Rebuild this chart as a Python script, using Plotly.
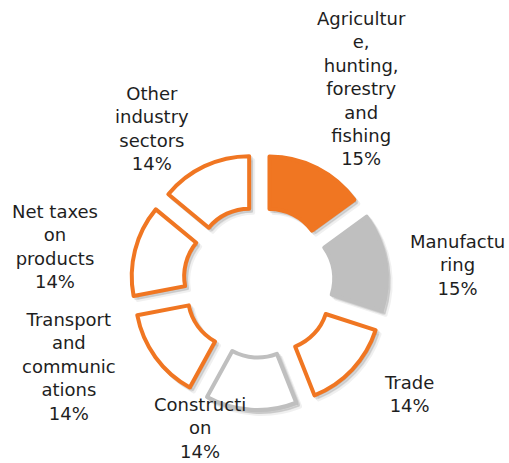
import plotly.graph_objects as go

# ---- data ----
labels = [
    "Agricultur<br>e,<br>hunting,<br>forestry<br>and<br>fishing",
    "Manufactu<br>ring",
    "Trade",
    "Constructi<br>on",
    "Transport<br>and<br>communic<br>ations",
    "Net taxes<br>on<br>products",
    "Other<br>industry<br>sectors",
]
values = [15, 15, 14, 14, 14, 14, 14]

# label block centres, pixels from top-left (layout only)
label_x = [361, 457, 409, 200, 69, 55, 152]
label_y = [88, 265, 394, 428, 366, 246, 128]

# ---- styling ----
W, H = 509, 463
ORANGE = "#F07622"
GREY = "#BFBFBF"
fill_colors = [ORANGE, GREY, "white", "white", "white", "white", "white"]
line_colors = [ORANGE, GREY, ORANGE, GREY, ORANGE, ORANGE, ORANGE]

# pie box in pixels
CX, CY, HALF = 259, 282, 128


def dom(cx, cy):
    return dict(x=[(cx - HALF) / W, (cx + HALF) / W],
                y=[1 - (cy + HALF) / H, 1 - (cy - HALF) / H])


pie_kw = dict(values=values, hole=0.5, pull=0.22, sort=False,
              direction="clockwise", rotation=0, textinfo="none",
              hoverinfo="skip", showlegend=False)

fig = go.Figure()

# soft drop shadow
for off, a in [(4, 0.06), (2, 0.10)]:
    fig.add_trace(go.Pie(
        labels=labels, domain=dom(CX + off, CY + off),
        marker=dict(colors=[f"rgba(0,0,0,{a})"] * len(values),
                    line=dict(color=f"rgba(0,0,0,{a})", width=4)),
        **pie_kw,
    ))

fig.add_trace(go.Pie(
    labels=labels, domain=dom(CX, CY),
    marker=dict(colors=fill_colors, line=dict(color=line_colors, width=4)),
    **pie_kw,
))

total = sum(values)
for lab, v, x, y in zip(labels, values, label_x, label_y):
    fig.add_annotation(
        x=x / W, y=1 - y / H, xref="paper", yref="paper",
        text=f"{lab}<br>{v / total:.0%}", showarrow=False,
        xanchor="center", yanchor="middle", align="center",
        font=dict(family="DejaVu Sans", size=18, color="#1E1E1E"),
    )

fig.update_layout(
    width=W, height=H,
    margin=dict(l=0, r=0, t=0, b=0),
    paper_bgcolor="white",
    plot_bgcolor="white",
)

# drop the browser's default page margin so the figure sits at (0, 0)
fig.write_html("out.html", config={"displayModeBar": False},
               post_script="document.body.style.margin='0';")
